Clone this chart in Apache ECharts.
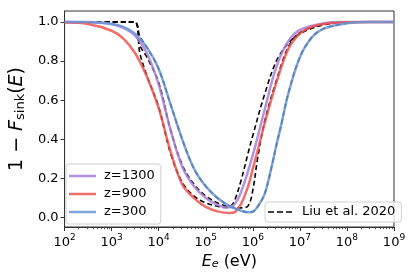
<!DOCTYPE html>
<html>
<head>
<meta charset="utf-8">
<script src="https://cdn.jsdelivr.net/npm/echarts@6/dist/echarts.min.js"></script>
<style>html,body{margin:0;padding:0;background:#fff}#c{width:415px;height:277px}</style>
</head>
<body>
<div id="c"></div>
<script>
// log10(E/eV) and 1 - F_sink values
const redLogE = [2, 2.5, 3, 3.25, 3.5, 3.75, 4, 4.25, 4.5, 4.75, 5, 5.25, 5.5, 5.6, 5.75, 5.9, 6, 6.1, 6.25, 6.5, 6.75, 7, 7.25, 7.5, 8, 8.5, 9];
const redVal  = [0.997, 0.99, 0.955, 0.915, 0.84, 0.72, 0.56, 0.34, 0.17, 0.10, 0.055, 0.032, 0.024, 0.026, 0.07, 0.16, 0.25, 0.34, 0.48, 0.69, 0.86, 0.94, 0.975, 0.99, 0.998, 1.0, 1.0];

const purpleLogE = [2, 2.5, 3, 3.25, 3.5, 3.75, 4, 4.25, 4.5, 4.75, 5, 5.25, 5.45, 5.6, 5.75, 6, 6.25, 6.5, 6.75, 7, 7.5, 8, 9];
const purpleVal  = [1.0, 0.998, 0.99, 0.97, 0.93, 0.84, 0.68, 0.45, 0.26, 0.16, 0.10, 0.065, 0.052, 0.065, 0.13, 0.32, 0.55, 0.77, 0.90, 0.96, 0.993, 1.0, 1.0];

const blueLogE = [2, 2.5, 3, 3.25, 3.5, 3.75, 4, 4.25, 4.5, 4.75, 5, 5.25, 5.5, 5.75, 5.9, 6, 6.1, 6.25, 6.4, 6.5, 6.6, 6.75, 7, 7.25, 7.5, 8, 8.5, 9];
const blueVal  = [1.0, 1.0, 0.99, 0.975, 0.94, 0.87, 0.76, 0.58, 0.40, 0.25, 0.16, 0.10, 0.06, 0.035, 0.027, 0.03, 0.055, 0.12, 0.26, 0.37, 0.47, 0.63, 0.82, 0.92, 0.965, 0.993, 1.0, 1.0];

const liuALogE = [2, 3.48, 3.6, 3.75, 4, 4.25, 4.5, 4.75, 5, 5.25, 5.4, 5.5, 5.6, 5.75, 5.9, 6, 6.25, 6.5, 6.75, 7, 7.5, 8, 9];
const liuAVal  = [1.0, 1.0, 0.84, 0.725, 0.565, 0.33, 0.18, 0.11, 0.075, 0.058, 0.052, 0.055, 0.08, 0.19, 0.33, 0.42, 0.63, 0.80, 0.89, 0.94, 0.985, 0.998, 1.0];

const liuBLogE = [2, 3.48, 3.6, 3.75, 4, 4.25, 4.5, 4.75, 5, 5.25, 5.5, 5.75, 5.9, 6, 6.1, 6.25, 6.5, 6.75, 7, 7.5, 8, 9];
const liuBVal  = [1.0, 1.0, 0.88, 0.82, 0.69, 0.45, 0.27, 0.17, 0.11, 0.075, 0.055, 0.05, 0.06, 0.14, 0.30, 0.49, 0.70, 0.87, 0.945, 0.99, 1.0, 1.0];

const liuCLogE = [2, 3.48, 3.6, 3.75, 4, 4.25, 4.5, 4.75, 5, 5.25, 5.5, 5.75, 5.9, 6, 6.1, 6.25, 6.4, 6.5, 6.6, 6.75, 7, 7.25, 7.5, 8, 8.5, 9];
const liuCVal  = [1.0, 1.0, 0.925, 0.87, 0.76, 0.58, 0.40, 0.25, 0.16, 0.10, 0.06, 0.035, 0.027, 0.03, 0.055, 0.12, 0.26, 0.37, 0.47, 0.63, 0.82, 0.92, 0.965, 0.993, 1.0, 1.0];

const xMajorTicks = [2, 3, 4, 5, 6, 7, 8, 9];
const yTicks = [0.0, 0.2, 0.4, 0.6, 0.8, 1.0];

const minorTicks = [];
for (let d = 2; d < 9; d++) for (let k = 2; k <= 9; k++) minorTicks.push(d + Math.log10(k));

const pair = (xs, ys) => xs.map((x, i) => [x, ys[i]]);
const FONT = 'DejaVu Sans';
const SOLID_ICON = 'path://M0,0H27V2.5H0Z';
const DASH_ICON = 'path://M0,0h6v1.7h-6z M9,0h6v1.7h-6z M18,0h6v1.7h-6z';

const chart = echarts.init(document.getElementById('c'), null, {renderer: 'canvas'});

const colored = (name, xs, ys, color) => ({
  name, type: 'line', data: pair(xs, ys), xAxisIndex: 0, yAxisIndex: 0,
  showSymbol: false, symbol: 'none', smooth: 0.35, z: 3,
  lineStyle: {color, width: 2.5, opacity: 0.85}, itemStyle: {color},
  emphasis: {disabled: true}
});
const dashed = (xs, ys) => ({
  name: 'Liu et al. 2020', type: 'line', data: pair(xs, ys), xAxisIndex: 0, yAxisIndex: 0,
  showSymbol: false, symbol: 'none', smooth: 0.35, z: 2,
  lineStyle: {color: '#000', width: 1.6, type: [5, 3]}, itemStyle: {color: '#000'},
  emphasis: {disabled: true}
});

chart.setOption({
  animation: false,
  grid: {left: 59, right: 21, top: 11, bottom: 50, show: true, borderColor: '#333', borderWidth: 1, backgroundColor: 'transparent'},
  xAxis: [{
    type: 'value', min: 2, max: 9, position: 'bottom',
    axisLine: {show: true, onZero: false, lineStyle: {color: '#333', width: 1}},
    axisTick: {show: true, inside: false, length: 4, customValues: xMajorTicks, lineStyle: {color: '#333'}},
    splitLine: {show: false},
    axisLabel: {
      customValues: xMajorTicks, margin: 6, color: '#000', fontFamily: FONT, fontSize: 13,
      formatter: v => '{b|10}{s|' + Math.round(v) + '}',
      rich: {b: {fontSize: 13, fontFamily: FONT, color: '#000', verticalAlign: 'bottom', lineHeight: 16},
             s: {fontSize: 9, fontFamily: FONT, color: '#000', verticalAlign: 'top', lineHeight: 16}}
    },
    name: '{i|E}{sub|e}{n| (eV)}', nameLocation: 'middle', nameGap: 24,
    nameTextStyle: {
      rich: {i: {fontSize: 16, fontStyle: 'italic', fontFamily: FONT, color: '#000', verticalAlign: 'bottom', lineHeight: 19},
             sub: {fontSize: 11, fontStyle: 'italic', fontFamily: FONT, color: '#000', verticalAlign: 'bottom', lineHeight: 15},
             n: {fontSize: 16, fontFamily: FONT, color: '#000', verticalAlign: 'bottom', lineHeight: 19}}
    }
  }, {
    type: 'value', min: 2, max: 9, position: 'bottom', gridIndex: 0,
    axisLine: {show: false, onZero: false},
    axisTick: {show: true, inside: false, length: 2.2, customValues: minorTicks, lineStyle: {color: '#333', width: 0.8}},
    axisLabel: {show: false}, splitLine: {show: false}
  }],
  yAxis: [{
    type: 'value', min: -0.048, max: 1.056,
    axisLine: {show: true, onZero: false, lineStyle: {color: '#333'}},
    axisTick: {show: true, inside: false, length: 4, customValues: yTicks, lineStyle: {color: '#333'}},
    splitLine: {show: false},
    axisLabel: {customValues: yTicks, margin: 6, color: '#000', fontFamily: FONT, fontSize: 13,
      formatter: v => v.toFixed(1)},
    name: '{n|1 − }{i|F}{sub|sink}{n|(}{i|E}{n|)}', nameLocation: 'middle', nameGap: 30, nameRotate: 90,
    nameTextStyle: {
      rich: {i: {fontSize: 19, fontStyle: 'italic', fontFamily: FONT, color: '#000', verticalAlign: 'bottom', lineHeight: 22},
             sub: {fontSize: 13, fontFamily: FONT, color: '#000', verticalAlign: 'bottom', lineHeight: 16},
             n: {fontSize: 19, fontFamily: FONT, color: '#000', verticalAlign: 'bottom', lineHeight: 22}}
    }
  }],
  legend: [{
    data: ['z=1300', 'z=900', 'z=300'], orient: 'vertical', left: 66, top: 164,
    icon: SOLID_ICON, itemWidth: 27, itemHeight: 2.5, itemGap: 4, padding: [5, 6, 5, 3],
    itemStyle: {opacity: 0.85},
    borderColor: '#d0d0d0', borderWidth: 1, borderRadius: 3, backgroundColor: 'rgba(255,255,255,0.8)',
    textStyle: {fontFamily: FONT, fontSize: 13, color: '#000', padding: [0, 0, 0, 3], lineHeight: 14},
    selectedMode: false
  }, {
    data: ['Liu et al. 2020'], orient: 'vertical', left: 265, top: 202,
    icon: DASH_ICON, itemWidth: 24, itemHeight: 1.7, padding: [3, 6, 3, 3],
    borderColor: '#d0d0d0', borderWidth: 1, borderRadius: 3, backgroundColor: 'rgba(255,255,255,0.8)',
    textStyle: {fontFamily: FONT, fontSize: 13, color: '#000', padding: [0, 0, 0, 5], lineHeight: 14},
    selectedMode: false
  }],
  series: [
    dashed(liuALogE, liuAVal),
    dashed(liuBLogE, liuBVal),
    dashed(liuCLogE, liuCVal),
    colored('z=1300', purpleLogE, purpleVal, '#a87fd6'),
    colored('z=900', redLogE, redVal, '#ee5550'),
    colored('z=300', blueLogE, blueVal, '#6a98d6')
  ]
});
</script>
</body>
</html>
